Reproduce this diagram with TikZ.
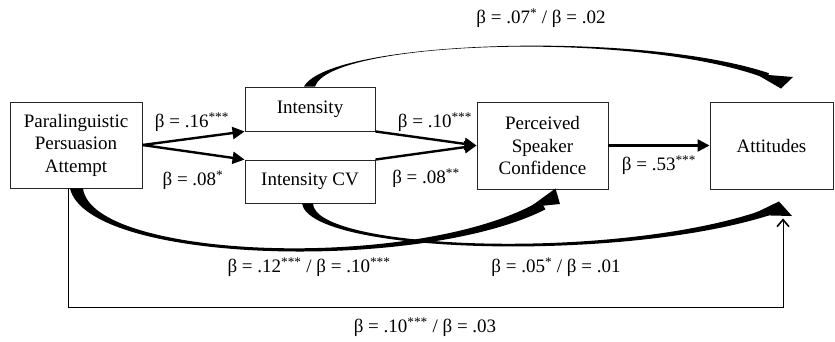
\documentclass[tikz,border=0pt]{standalone}
\usepackage{fontspec}
\setmainfont{Liberation Serif}
\usetikzlibrary{arrows.meta,calc}
\begin{document}
\begin{tikzpicture}[x=1pt,y=-1pt,
  box/.style={draw=black!85, line width=0.9pt, inner sep=0pt, align=center, font=\fontsize{19}{22.5}\selectfont},
  lbl/.style={inner sep=0pt, font=\fontsize{19}{22.5}\selectfont},
  patharrow/.style={line width=2.4pt, -{Triangle[length=12pt,width=12pt]}},
  band/.style={fill=black},
  thinarrow/.style={line width=1pt, -{Straight Barb[length=7pt,width=12pt,line width=1.6pt]}}
]
\useasboundingbox (0,0) rectangle (835,341);

% boxes
\node[box, minimum width=132, minimum height=86] (para) at (76,145) {Paralinguistic\\Persuasion\\Attempt};
\node[box, minimum width=130, minimum height=44] (int) at (310,109) {Intensity};
\node[box, minimum width=130, minimum height=43] (cv) at (310,181.5) {Intensity CV};
\node[box, minimum width=131, minimum height=87] (perc) at (542.5,145.5) {Perceived\\Speaker\\Confidence};
\node[box, minimum width=123, minimum height=87] (att) at (771.5,145.5) {Attitudes};

% straight arrows
\draw[patharrow] (para.east) -- (int.south west);
\draw[patharrow] (para.east) -- (cv.north west);
\draw[patharrow] (int.south east) -- (perc.west);
\draw[patharrow] (cv.north east) -- (perc.west);
\draw[patharrow] (perc.east) -- (att.west);

% tapered curved arrow: Paralinguistic -> Perceived
\fill[band] ($(para.south)+(-6,0)$) .. controls (88,264) and (420,272.5) .. (545.4,209.4)
  -- (540.6,200.6) .. controls (420,271.5) and (92,260) .. ($(para.south)+(7,0)$) -- cycle;
\coordinate (t1) at ($(perc.south)+(13,-1)$);
\fill[band] (530,207) -- (t1) -- (560,204) -- cycle;

% tapered curved arrow: Intensity CV -> Attitudes
\fill[band] ($(cv.south)+(-8,0)$) .. controls (310,254) and (620,262.5) .. (769.2,215.3)
  -- (766.8,208.7) .. controls (620,261.5) and (314,250.5) .. ($(cv.south)+(3,0)$) -- cycle;
\coordinate (t2) at ($(att.south)+(7.5,12)$);
\fill[band] (751,215) -- (t2) -- (792,216) -- cycle;

% tapered curved arrow: Intensity -> Attitudes (top)
\fill[band] ($(int.north)+(-6,0)$) .. controls (330,40) and (640,30) .. (769,73.2)
  -- (767,78.8) .. controls (640,30) and (330,40) .. ($(int.north)+(5,0)$) -- cycle;
\coordinate (t3) at ($(att.north)+(9.5,-13)$);
\fill[band] (756,74) -- (793,77) -- (t3) -- cycle;

% thin direct path
\coordinate (attin) at ($(att.south)+(11.5,29)$);
\draw[thinarrow] ($(para.south)+(-8,0)$) |- ($(attin)+(0,89)$) -- (attin);

% labels
\node[lbl] (l1) at (192,122) {β = .16\textsuperscript{***}};
\node[lbl] (l2) at (193,180) {β = .08\textsuperscript{*}};
\node[lbl] (l3) at (435,122) {β = .10\textsuperscript{***}};
\node[lbl] (l4) at (426,178) {β = .08\textsuperscript{**}};
\node[lbl] (l5) at (659,165) {β = .53\textsuperscript{***}};
\node[lbl] (l6) at (541,18) {β = .07\textsuperscript{*} / β = .02};
\node[lbl] (l7) at (309,267) {β = .12\textsuperscript{***} / β = .10\textsuperscript{***}};
\node[lbl] (l8) at (556,267) {β = .05\textsuperscript{*} / β = .01};
\node[lbl] (l9) at (425,327) {β = .10\textsuperscript{***} / β = .03};
\end{tikzpicture}
\end{document}
